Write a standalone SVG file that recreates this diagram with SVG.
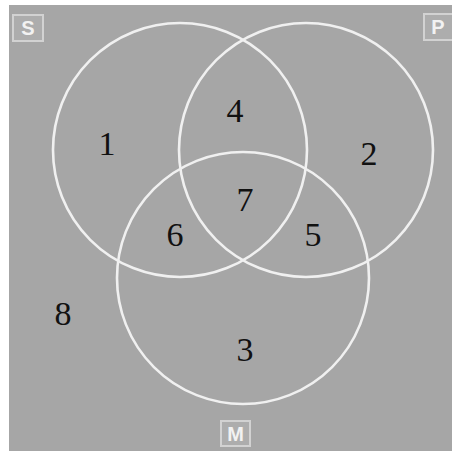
<svg xmlns="http://www.w3.org/2000/svg" width="452" height="451" viewBox="0 0 452 451">
<style>
.circ{fill:none;stroke:#f0f0f0;stroke-width:2.6}
.num{font-family:"Liberation Serif","DejaVu Serif",serif;font-size:34px;fill:#111;text-anchor:middle}
.box{fill:#adadad;stroke:#d2d2d2;stroke-width:2}
.lbl{font-family:"Liberation Sans","DejaVu Sans",sans-serif;font-size:20px;font-weight:bold;fill:#f2f2f2;text-anchor:middle}
</style>
<rect x="0" y="0" width="452" height="451" fill="#ffffff"/>
<rect x="9" y="5" width="443" height="446" fill="#a6a6a6"/>
<g id="S">
<circle class="circ" cx="180" cy="150" r="127"/>
<rect class="box" x="13" y="15" width="30" height="26"/>
<text class="lbl" x="28" y="35">S</text>
</g>
<g id="P">
<circle class="circ" cx="306" cy="150" r="127"/>
<rect class="box" x="424" y="14" width="30" height="26"/>
<text class="lbl" x="438" y="34">P</text>
</g>
<g id="M">
<circle class="circ" cx="243" cy="278" r="126"/>
<rect class="box" x="221" y="421" width="29" height="25"/>
<text class="lbl" x="235.5" y="441">M</text>
</g>
<g id="regions">
<text class="num" x="107" y="155">1</text>
<text class="num" x="369" y="165">2</text>
<text class="num" x="245" y="361">3</text>
<text class="num" x="235" y="122">4</text>
<text class="num" x="313" y="246">5</text>
<text class="num" x="175" y="246">6</text>
<text class="num" x="245" y="211">7</text>
<text class="num" x="63" y="325">8</text>
</g>
</svg>
